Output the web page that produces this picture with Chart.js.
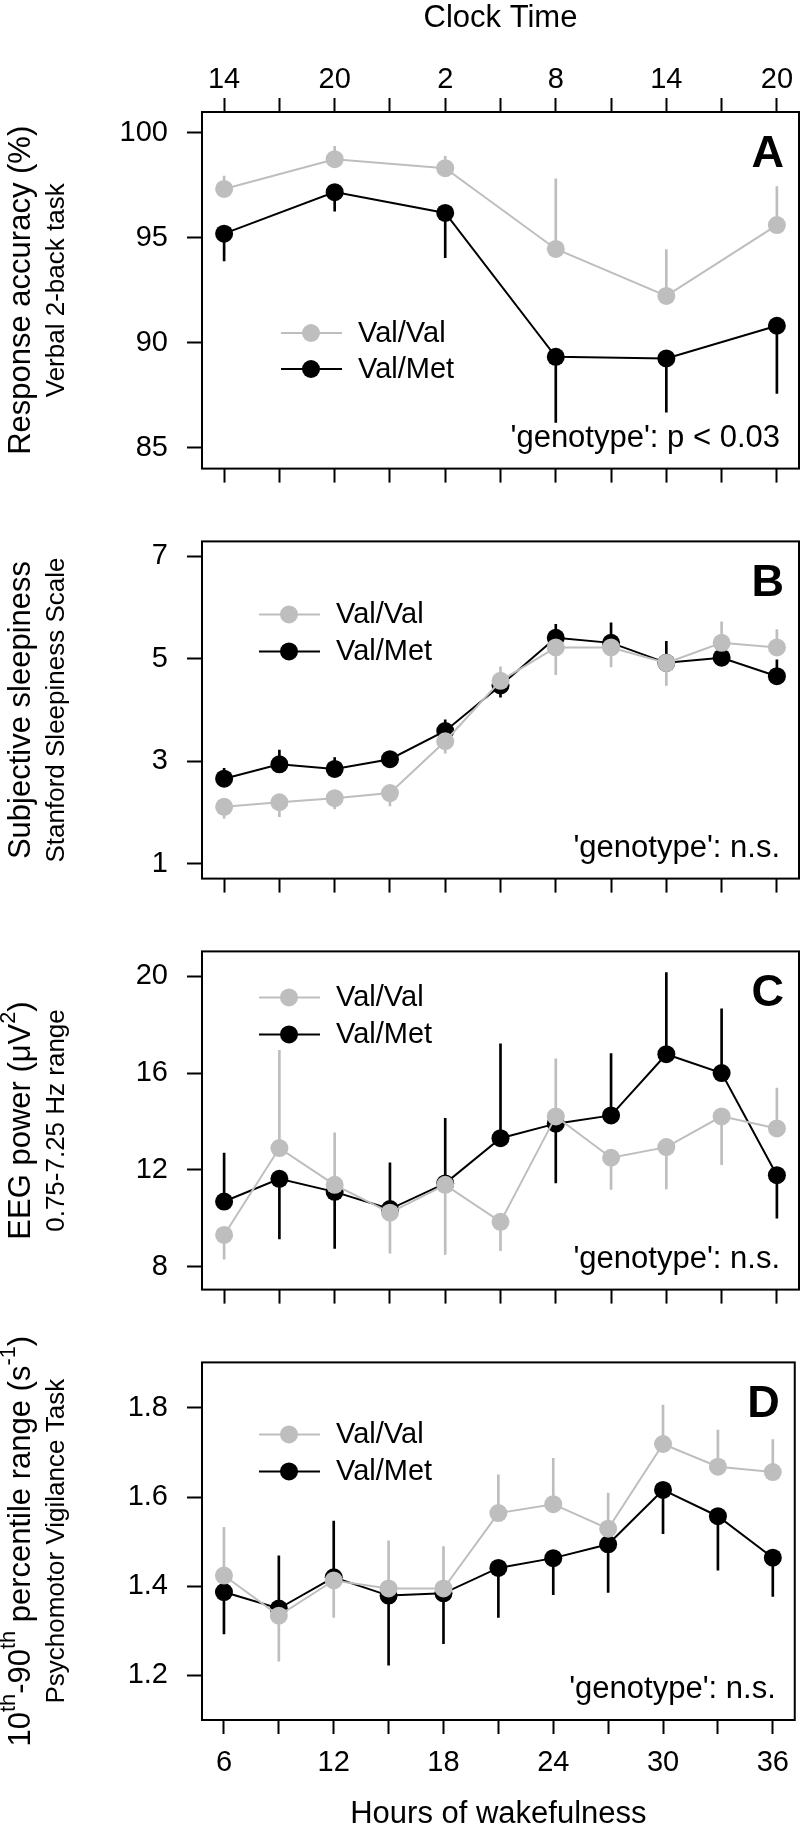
<!DOCTYPE html>
<html>
<head>
    <title>Wakefulness by genotype</title>
    <style>
        body {
            margin: 0;
            background-color: #ffffff;
        }
        #wrap {
            position: relative;
            width: 801px;
            height: 1827px;
        }
        canvas {
            position: absolute;
            left: 0;
        }
    </style>
</head>
<body>
    <div id="wrap">
        <canvas id="chartA" width="801" height="505" style="top:0px"></canvas>
        <canvas id="chartB" width="801" height="410" style="top:505px"></canvas>
        <canvas id="chartC" width="801" height="411" style="top:915px"></canvas>
        <canvas id="chartD" width="801" height="501" style="top:1326px"></canvas>
    </div>

    <script src="https://cdn.jsdelivr.net/npm/chart.js"></script>
    <script>
        // ---- data ----
        const seriesNames = ['Val/Val', 'Val/Met'];
        const hours = [6, 9, 12, 15, 18, 21, 24, 27, 30, 33, 36];
        const hoursA = [6, 12, 18, 24, 30, 36];
        const hourTicks = [6, 9, 12, 15, 18, 21, 24, 27, 30, 33, 36];
        const clockLabels = ['14', '20', '2', '8', '14', '20'];   // clock time at hoursA

        // A: response accuracy (%), verbal 2-back
        const accValVal = [97.33, 98.75, 98.32, 94.47, 92.23, 95.61];
        const accValValErr = [97.94, 99.36, 98.89, 97.82, 94.44, 97.45];   // error bar ends
        const accValMet = [95.20, 97.18, 96.19, 89.33, 89.25, 90.81];
        const accValMetErr = [93.90, 96.27, 94.05, 86.20, 86.69, 87.58];
        const accTicks = [85, 90, 95, 100];

        // B: subjective sleepiness (SSS)
        const sssValVal = [2.11, 2.20, 2.28, 2.38, 3.39, 4.57, 5.22, 5.22, 4.92, 5.31, 5.22];
        const sssValValErr = [1.89, 1.92, 2.07, 2.13, 3.16, 4.84, 4.69, 4.84, 4.48, 5.72, 5.57];
        const sssValMet = [2.66, 2.94, 2.85, 3.04, 3.59, 4.48, 5.41, 5.31, 4.92, 5.02, 4.66];
        const sssValMetErr = [2.86, 3.22, 3.07, 3.10, 3.81, 4.25, 5.67, 5.70, 5.34, 5.02, 4.98];
        const sssTicks = [1, 3, 5, 7];

        // C: EEG power 0.75-7.25 Hz
        const eegValVal = [9.31, 12.90, 11.38, 10.23, 11.38, 9.85, 14.21, 12.50, 12.94, 14.21, 13.71];
        const eegValValErr = [8.31, 16.94, 13.53, 8.56, 8.50, 8.66, 16.59, 11.19, 11.21, 12.21, 15.38];
        const eegValMet = [10.69, 11.63, 11.09, 10.38, 11.44, 13.31, 13.91, 14.25, 16.78, 16.00, 11.78];
        const eegValMetErr = [12.69, 9.15, 8.75, 12.29, 14.13, 17.21, 11.46, 16.81, 20.15, 18.66, 10.00];
        const eegTicks = [8, 12, 16, 20];

        // D: 10th-90th percentile range, PVT
        const pvtValVal = [1.424, 1.334, 1.413, 1.395, 1.395, 1.564, 1.584, 1.529, 1.719, 1.668, 1.656];
        const pvtValValErr = [1.532, 1.232, 1.330, 1.502, 1.489, 1.650, 1.687, 1.609, 1.806, 1.750, 1.729];
        const pvtValMet = [1.387, 1.350, 1.420, 1.379, 1.384, 1.441, 1.463, 1.494, 1.616, 1.557, 1.464];
        const pvtValMetErr = [1.293, 1.468, 1.546, 1.223, 1.271, 1.330, 1.381, 1.386, 1.518, 1.436, 1.377];
        const pvtTicks = [1.2, 1.4, 1.6, 1.8];

        const GREY = '#bebebe';
        const BLACK = '#000000';
        const FONT = '"Liberation Sans", Arial, Helvetica, sans-serif';
        const DOT = 9;

        Chart.defaults.font.family = FONT;
        Chart.defaults.color = '#000';

        // rotated axis title, parts can be superscript
        function drawRotated(ctx, parts, cx, cy, size) {
            ctx.save();
            ctx.translate(cx, cy);
            ctx.rotate(-Math.PI / 2);
            ctx.textAlign = 'left';
            ctx.textBaseline = 'middle';
            let total = 0;
            const widths = parts.map(p => {
                ctx.font = (p.sup ? size * 0.7 : size) + 'px ' + FONT;
                const w = ctx.measureText(p.t).width;
                total += w;
                return w;
            });
            let x = -total / 2;
            parts.forEach((p, i) => {
                ctx.font = (p.sup ? size * 0.7 : size) + 'px ' + FONT;
                ctx.fillText(p.t, x, p.sup ? -size * 0.38 : 0);
                x += widths[i];
            });
            ctx.restore();
        }

        const panelDeco = {
            id: 'panelDeco',
            afterDraw(chart, args, o) {
                const { ctx, chartArea: a } = chart;
                ctx.save();
                // frame
                ctx.strokeStyle = '#000';
                ctx.lineWidth = 2;
                ctx.strokeRect(a.left, a.top, a.right - a.left, a.bottom - a.top);

                ctx.fillStyle = '#000';
                ctx.textAlign = 'right';
                ctx.textBaseline = 'alphabetic';
                ctx.font = 'bold 45px ' + FONT;
                ctx.fillText(o.letter, a.right - 15, a.top + 55);
                ctx.font = '31px ' + FONT;
                ctx.fillText(o.note, a.right - 19, a.bottom - 22);

                // legend
                const colors = [GREY, BLACK];
                seriesNames.forEach((name, i) => {
                    const y = a.top + o.legendY[i];
                    ctx.strokeStyle = colors[i];
                    ctx.lineWidth = 2;
                    ctx.beginPath();
                    ctx.moveTo(o.legendX - 30, y);
                    ctx.lineTo(o.legendX + 31, y);
                    ctx.stroke();
                    ctx.fillStyle = colors[i];
                    ctx.beginPath();
                    ctx.arc(o.legendX, y, DOT, 0, Math.PI * 2);
                    ctx.fill();
                    ctx.fillStyle = '#000';
                    ctx.textAlign = 'left';
                    ctx.textBaseline = 'middle';
                    ctx.font = '29px ' + FONT;
                    ctx.fillText(name, o.legendX + 47, y + 1);
                });

                const cy = (a.top + a.bottom) / 2;
                drawRotated(ctx, o.title, 21, cy, 31);
                drawRotated(ctx, [{ t: o.subtitle }], 57, cy, 26);
                ctx.restore();
            }
        };

        function tickAxisGrid(len) {
            return { offset: false, drawOnChartArea: false, drawTicks: true, tickLength: len, tickWidth: 2, tickColor: '#000' };
        }

        function makePanel(id, p) {
            const xs = p.x;
            const datasets = [
                {
                    type: 'line', label: seriesNames[0],
                    data: xs.map((h, i) => ({ x: h, y: p.vv[i] })),
                    borderColor: GREY, backgroundColor: GREY, borderWidth: 2,
                    pointRadius: DOT, pointBorderWidth: 0, pointBackgroundColor: GREY,
                    order: 1
                },
                {
                    type: 'bar',
                    data: xs.map((h, i) => ({ x: h, y: [p.vv[i], p.vvErr[i]] })),
                    backgroundColor: GREY, barThickness: 2, grouped: false,
                    order: 2
                },
                {
                    type: 'line', label: seriesNames[1],
                    data: xs.map((h, i) => ({ x: h, y: p.vm[i] })),
                    borderColor: BLACK, backgroundColor: BLACK, borderWidth: 2,
                    pointRadius: DOT, pointBorderWidth: 0, pointBackgroundColor: BLACK,
                    order: 3
                },
                {
                    type: 'bar',
                    data: xs.map((h, i) => ({ x: h, y: [p.vm[i], p.vmErr[i]] })),
                    backgroundColor: BLACK, barThickness: 2, grouped: false,
                    order: 4
                }
            ];

            const scales = {
                x: {
                    type: 'linear', min: 4.8, max: 37.2, offset: false,
                    afterBuildTicks: s => { s.ticks = hourTicks.map(v => ({ value: v })); },
                    ticks: {
                        autoSkip: false, maxRotation: 0, padding: 12,
                        font: { size: 29 }, color: '#000',
                        callback: v => (p.hourLabels && v % 6 === 0) ? String(v) : ''
                    },
                    grid: tickAxisGrid(14),
                    border: { display: false },
                    title: {
                        display: !!p.hourLabels, text: 'Hours of wakefulness',
                        font: { size: 31, lineHeight: 0.8 }, padding: 0
                    },
                    afterFit: s => { s.height = p.bottomH; }
                },
                y: {
                    type: 'linear', min: p.yMin, max: p.yMax, offset: false,
                    afterBuildTicks: s => { s.ticks = p.yTicks.map(v => ({ value: v })); },
                    ticks: { padding: 19, font: { size: 29 }, color: '#000', callback: v => String(v) },
                    grid: tickAxisGrid(15),
                    border: { display: false },
                    afterFit: s => { s.width = 202; }
                }
            };

            if (p.clock) {
                scales.x2 = {
                    type: 'linear', position: 'top', min: 4.8, max: 37.2, offset: false,
                    afterBuildTicks: s => { s.ticks = hourTicks.map(v => ({ value: v })); },
                    ticks: {
                        autoSkip: false, maxRotation: 0, padding: 1,
                        font: { size: 29 }, color: '#000',
                        callback: v => {
                            const k = hoursA.indexOf(v);
                            return k >= 0 ? clockLabels[k] : '';
                        }
                    },
                    grid: tickAxisGrid(14),
                    border: { display: false },
                    title: { display: true, text: 'Clock Time', font: { size: 31 }, padding: 0 },
                    afterFit: s => { s.height = 112; }
                };
            }

            return new Chart(document.getElementById(id).getContext('2d'), {
                type: 'line',
                data: { datasets: datasets },
                options: {
                    responsive: false,
                    animation: false,
                    layout: { autoPadding: false, padding: { top: p.padTop, right: 2, left: 0, bottom: 0 } },
                    scales: scales,
                    plugins: {
                        legend: { display: false },
                        tooltip: { enabled: false },
                        panelDeco: {
                            letter: p.letter, note: p.note,
                            legendX: p.legendX, legendY: p.legendY,
                            title: p.title, subtitle: p.subtitle
                        }
                    }
                },
                plugins: [panelDeco]
            });
        }

        makePanel('chartA', {
            x: hoursA, vv: accValVal, vvErr: accValValErr, vm: accValMet, vmErr: accValMetErr,
            yMin: 84, yMax: 101, yTicks: accTicks,
            clock: true, hourLabels: false, bottomH: 18, padTop: 0,
            letter: 'A', note: "'genotype': p < 0.03",
            legendX: 311, legendY: [221, 257],
            title: [{ t: 'Response accuracy (%)' }], subtitle: 'Verbal 2-back task'
        });

        makePanel('chartB', {
            x: hours, vv: sssValVal, vvErr: sssValValErr, vm: sssValMet, vmErr: sssValMetErr,
            yMin: 0.71, yMax: 7.29, yTicks: sssTicks,
            clock: false, hourLabels: false, bottomH: 18, padTop: 18,
            letter: 'B', note: "'genotype': n.s.",
            legendX: 289, legendY: [73, 110],
            title: [{ t: 'Subjective sleepiness' }], subtitle: 'Stanford Sleepiness Scale'
        });

        makePanel('chartC', {
            x: hours, vv: eegValVal, vvErr: eegValValErr, vm: eegValMet, vmErr: eegValMetErr,
            yMin: 7.05, yMax: 21.03, yTicks: eegTicks,
            clock: false, hourLabels: false, bottomH: 18, padTop: 19,
            letter: 'C', note: "'genotype': n.s.",
            legendX: 289, legendY: [46, 83],
            title: [{ t: 'EEG power (μV' }, { t: '2', sup: true }, { t: ')' }],
            subtitle: '0.75-7.25 Hz range'
        });

        makePanel('chartD', {
            x: hours, vv: pvtValVal, vvErr: pvtValValErr, vm: pvtValMet, vmErr: pvtValMetErr,
            yMin: 1.1, yMax: 1.902, yTicks: pvtTicks,
            clock: false, hourLabels: true, bottomH: 107, padTop: 20,
            letter: 'D', note: "'genotype': n.s.",
            legendX: 289, legendY: [72, 109],
            title: [
                { t: '10' }, { t: 'th', sup: true }, { t: '-90' }, { t: 'th', sup: true },
                { t: ' percentile range (s' }, { t: '-1', sup: true }, { t: ')' }
            ],
            subtitle: 'Psychomotor Vigilance Task'
        });
    </script>
</body>
</html>
